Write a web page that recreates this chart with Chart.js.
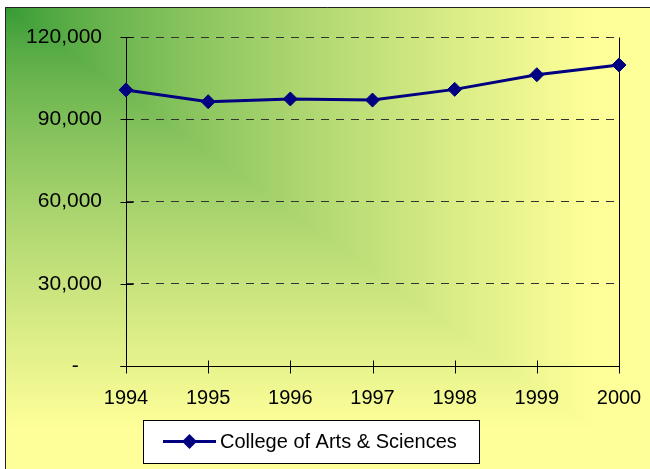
<!DOCTYPE html>
<html>
<head>
<meta charset="utf-8">
<title>College of Arts & Sciences</title>
<script src="https://cdn.jsdelivr.net/npm/chart.js@4/dist/chart.umd.min.js"></script>
<style>
    html, body { margin: 0; padding: 0; background: #fff; }
    canvas { display: block; }
</style>
</head>
<body>
<canvas id="graficoMatriculas" width="650" height="469"></canvas>
<script>
const anos = ['1994', '1995', '1996', '1997', '1998', '1999', '2000'];
const matriculas = [100700, 96400, 97400, 97000, 100900, 106250, 109800];
const ticksY = [0, 30000, 60000, 90000, 120000];
const nomeSerie = 'College of Arts & Sciences';

const FONTE = "'Liberation Sans', Arial, sans-serif";
const AZUL = '#000080';

// fundo em degradê "do canto" (verde no canto superior esquerdo -> amarelo)
let fundoCache = null;
function montarFundo(w, h){
    const c = document.createElement('canvas');
    c.width = w;
    c.height = h;
    const g = c.getContext('2d');
    const img = g.createImageData(w, h);
    const x0 = 5, y0 = 7;
    const ini = [51, 153, 51];
    const fim = [255, 255, 153];
    for(let y = 0; y < h; y++){
        for(let x = 0; x < w; x++){
            const i = (y * w + x) * 4;
            if(x < x0 || y < y0){
                img.data[i] = 255; img.data[i+1] = 255; img.data[i+2] = 255; img.data[i+3] = 255;
                continue;
            }
            let t = Math.max((x - x0) / 590, (y - y0) / 423);
            t = Math.pow(Math.min(1, t), 0.75);
            img.data[i]   = ini[0] + (fim[0] - ini[0]) * t;
            img.data[i+1] = ini[1] + (fim[1] - ini[1]) * t;
            img.data[i+2] = ini[2] + (fim[2] - ini[2]) * t;
            img.data[i+3] = 255;
        }
    }
    g.putImageData(img, 0, 0);
    g.strokeStyle = '#222';
    g.lineWidth = 1;
    g.beginPath();
    g.moveTo(x0 + 0.5, h);
    g.lineTo(x0 + 0.5, y0 + 0.5);
    g.lineTo(w, y0 + 0.5);
    g.stroke();
    return c;
}

const pluginFundo = {
    id: 'fundo',
    beforeDraw(chart){
        if(!fundoCache){
            fundoCache = montarFundo(chart.width, chart.height);
        }
        chart.ctx.drawImage(fundoCache, 0, 0);
    }
};

// eixos com marcas cruzadas, como no Excel
const pluginEixos = {
    id: 'eixos',
    beforeDatasetsDraw(chart){
        const ctx = chart.ctx;
        const area = chart.chartArea;
        const sx = chart.scales.x;
        const sy = chart.scales.y;
        ctx.save();
        ctx.strokeStyle = '#000';
        ctx.lineWidth = 1;
        ctx.beginPath();
        const esq = Math.round(area.left) + 0.5;
        const dir = Math.round(area.right) + 0.5;
        const base = Math.round(area.bottom) + 0.5;
        const topo = Math.round(area.top) + 0.5;
        ctx.moveTo(esq, topo);
        ctx.lineTo(esq, base);
        ctx.moveTo(esq - 6, base);
        ctx.lineTo(dir, base);
        ctx.moveTo(dir, topo);
        ctx.lineTo(dir, base);
        sy.ticks.forEach(t => {
            const py = Math.round(sy.getPixelForValue(t.value)) + 0.5;
            ctx.moveTo(esq - 6, py);
            ctx.lineTo(esq + 7, py);
        });
        sx.ticks.forEach((t, i) => {
            const px = Math.round(sx.getPixelForTick(i)) + 0.5;
            ctx.moveTo(px, base - 6);
            ctx.lineTo(px, base + 7);
        });
        ctx.stroke();
        ctx.restore();
    }
};

// legenda em caixa branca com linha + losango
const pluginLegenda = {
    id: 'legendaCaixa',
    afterDraw(chart){
        const ctx = chart.ctx;
        const ds = chart.data.datasets[0];
        ctx.save();
        ctx.fillStyle = '#fff';
        ctx.fillRect(143, 420, 336, 43);
        ctx.strokeStyle = '#000';
        ctx.lineWidth = 1;
        ctx.strokeRect(143.5, 420.5, 336, 43);

        const cy = 441.5;
        ctx.strokeStyle = ds.borderColor;
        ctx.lineWidth = 3;
        ctx.beginPath();
        ctx.moveTo(163, cy);
        ctx.lineTo(216, cy);
        ctx.stroke();

        const cx = 189.5, r = 7.5;
        ctx.fillStyle = ds.pointBackgroundColor;
        ctx.beginPath();
        ctx.moveTo(cx - r, cy);
        ctx.lineTo(cx, cy - r);
        ctx.lineTo(cx + r, cy);
        ctx.lineTo(cx, cy + r);
        ctx.closePath();
        ctx.fill();

        ctx.fillStyle = '#000';
        ctx.font = '20px ' + FONTE;
        ctx.textBaseline = 'middle';
        ctx.textAlign = 'left';
        ctx.fillText(ds.label, 220, cy + 1);
        ctx.restore();
    }
};

function formatarValor(v){
    if(v === 0){
        return '-\u2007\u2007';
    }
    return v.toLocaleString('en-US');
}

const ctx = document.getElementById('graficoMatriculas');

new Chart(ctx, {
    type: 'line',
    data: {
        labels: anos,
        datasets: [{
            label: nomeSerie,
            data: matriculas,
            borderColor: AZUL,
            borderWidth: 3,
            tension: 0,
            fill: false,
            pointStyle: 'rectRot',
            pointRadius: 7,
            pointBorderWidth: 1,
            pointBackgroundColor: AZUL,
            pointBorderColor: AZUL
        }]
    },
    options: {
        responsive: false,
        animation: false,
        layout: {
            padding: { top: 37, right: 31, left: 0, bottom: 0 }
        },
        plugins: {
            legend: { display: false },
            tooltip: { enabled: false }
        },
        scales: {
            x: {
                offset: false,
                grid: { display: false },
                border: { display: false },
                ticks: {
                    color: '#000',
                    padding: 12,
                    maxRotation: 0,
                    font: { family: FONTE, size: 20 }
                },
                afterFit(scale){
                    scale.height = 103;
                    scale.paddingLeft = 0;
                    scale.paddingRight = 0;
                }
            },
            y: {
                min: 0,
                max: 120000,
                afterBuildTicks(scale){
                    scale.ticks = ticksY.map(v => ({ value: v }));
                },
                grid: {
                    drawTicks: false,
                    color: c => c.tick && c.tick.value === 0 ? 'rgba(0,0,0,0)' : '#333',
                    lineWidth: 1
                },
                border: { display: false, dash: [8, 7] },
                ticks: {
                    color: '#000',
                    padding: 24,
                    font: { family: FONTE, size: 21 },
                    callback: v => formatarValor(v)
                },
                afterFit(scale){
                    scale.width = 126;
                    scale.paddingTop = 0;
                    scale.paddingBottom = 0;
                }
            }
        }
    },
    plugins: [pluginFundo, pluginEixos, pluginLegenda]
});
</script>
</body>
</html>
